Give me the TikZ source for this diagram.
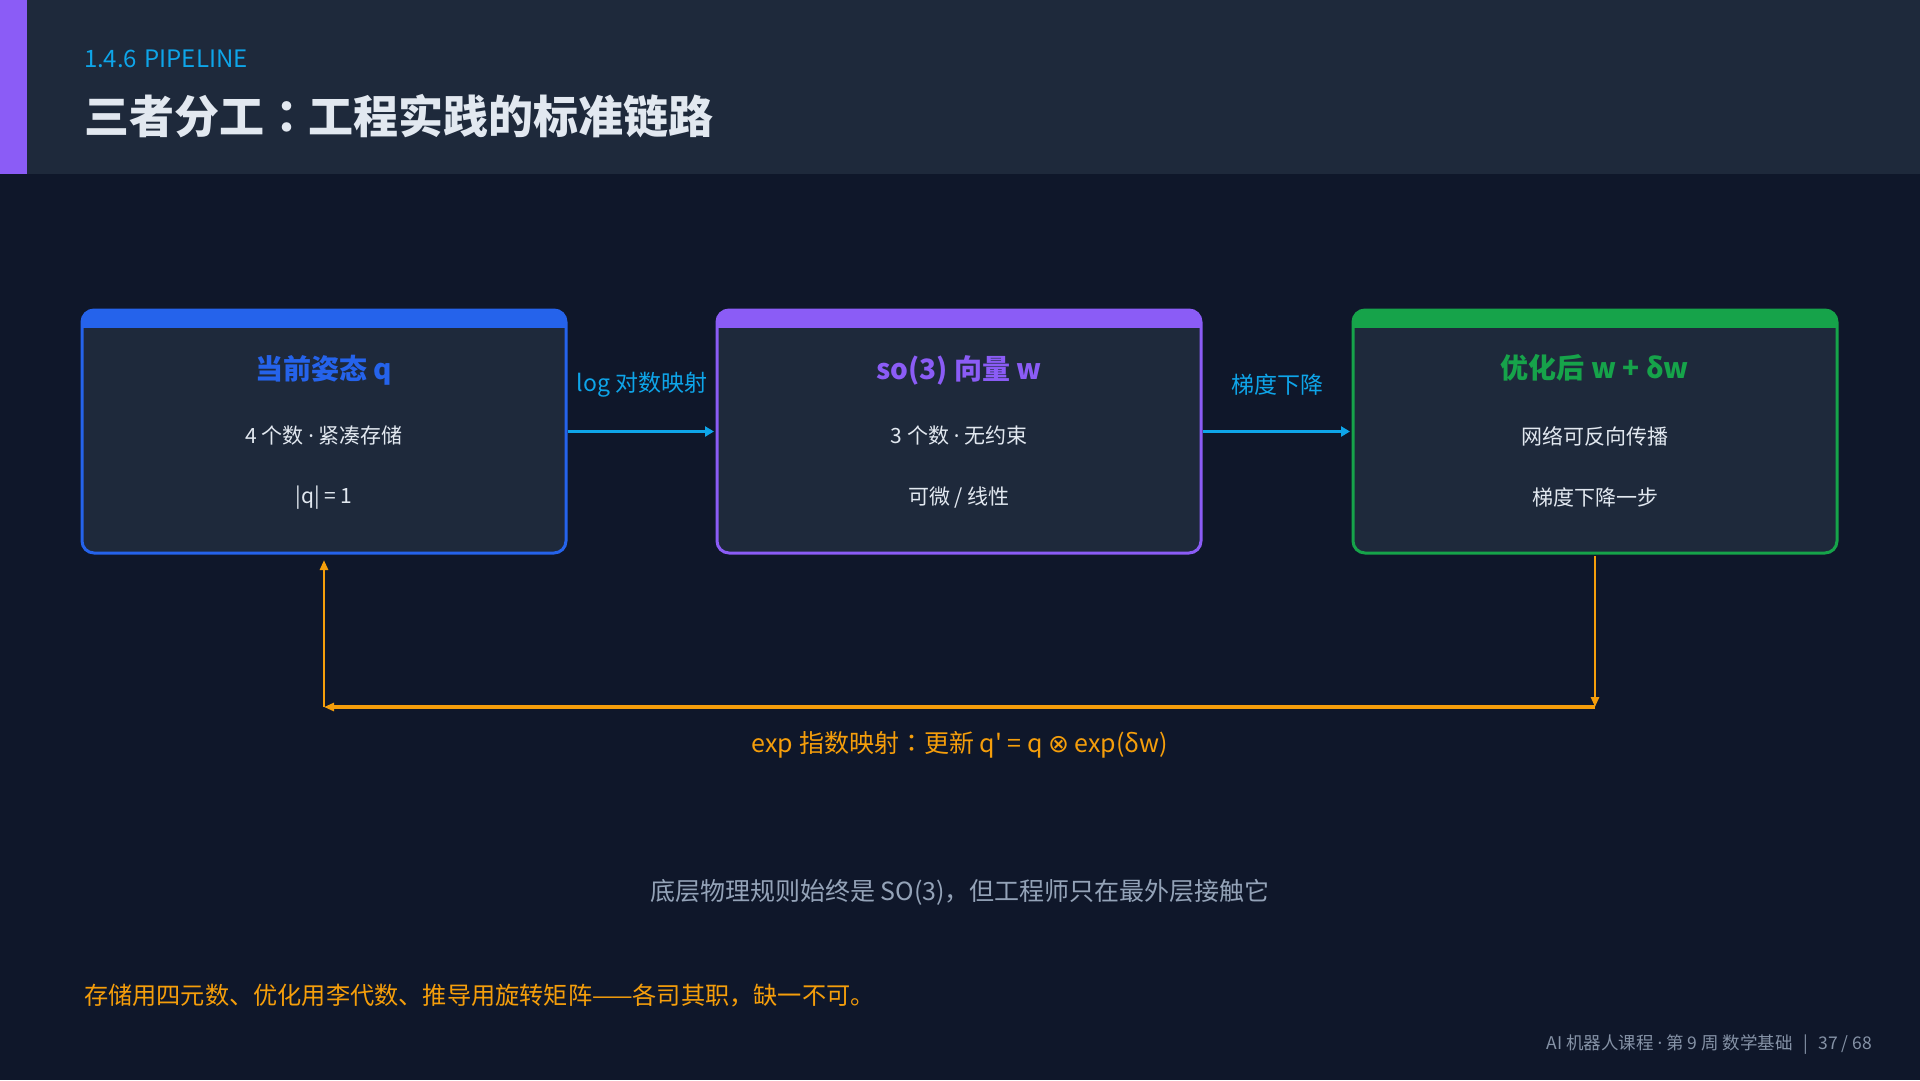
\documentclass[tikz,border=0pt]{standalone}
\usepackage{fontspec}
\setmainfont{Noto Sans CJK SC}
\newfontfamily\symfont{DejaVu Sans}
\newfontfamily\latinfont{Noto Sans}
\newfontfamily\tcfont{Noto Sans CJK TC}
\newfontfamily\plaincjk{Noto Sans CJK SC}
\newcommand{\mdot}{{\latinfont ·}}
\newcommand{\fwcolon}{{\tcfont ：}}
\newcommand{\apos}{{\plaincjk '}}
\usetikzlibrary{arrows.meta}
\definecolor{bgc}{HTML}{0F172A}
\definecolor{panel}{HTML}{1E293B}
\definecolor{accent}{HTML}{8B5CF6}
\definecolor{sky}{HTML}{0EA5E9}
\definecolor{titlec}{HTML}{E2E8F0}
\definecolor{bodyc}{HTML}{E2E8F0}
\definecolor{greyc}{HTML}{94A3B8}
\definecolor{footc}{HTML}{8592A6}
\definecolor{blueb}{HTML}{2563EB}
\definecolor{purpleb}{HTML}{8B5CF6}
\definecolor{greenb}{HTML}{16A34A}
\definecolor{orangec}{HTML}{F59E0B}
\tikzset{
  txt/.style={inner sep=0pt, outer sep=0pt},
  boxframe/.style={draw=#1, line width=3pt, rounded corners=12pt, minimum width=484pt, minimum height=243pt, inner sep=0pt, outer sep=0pt},
  boxtitle/.style={txt, text=#1, font=\fontsize{28}{28}\selectfont\bfseries},
  boxline/.style={txt, text=bodyc, font=\fontsize{21}{21}\selectfont},
  flowarrow/.style={draw=sky, line width=3pt, -{Triangle[length=9pt,width=10pt]}},
  looparrow/.style={draw=orangec, -{Triangle[length=10pt,width=8pt]}},
}
\newcommand{\cardbox}[3]{% name, x-left, color
  \fill[panel, rounded corners=12pt] (#2,310) rectangle ++(484,243);
  \begin{scope}
    \clip[rounded corners=12pt] (#2,310) rectangle ++(484,243);
    \fill[#3] (#2,310) rectangle ++(484,18);
  \end{scope}
  \node[boxframe=#3] (#1) at (#2+242,431.5) {};
}
\begin{document}
\begin{tikzpicture}[x=1pt, y=-1pt]
\useasboundingbox (0,0) rectangle (1920,1080);
\fill[bgc] (0,0) rectangle (1920,1080);
% header
\fill[panel] (0,0) rectangle (1920,174);
\fill[accent] (0,0) rectangle (27,174);
\node[txt, anchor=west, text=sky, font=\fontsize{24}{24}\selectfont] (sec) at (84,59) {1.4.6\hspace{0.3em}PIPELINE};
\node[txt, anchor=west, text=titlec, font=\fontsize{45}{45}\selectfont\bfseries] (ttl) at (84,116) {三者分工\fwcolon 工程实践的标准链路};

% cards
\cardbox{b1}{82}{blueb}
\cardbox{b2}{717}{purpleb}
\cardbox{b3}{1353}{greenb}

\node[boxtitle=blueb] (b1t) at (324,370) {当前姿态 q};
\node[boxline] (b1a) at (324,436) {4 个数 \mdot{} 紧凑存储};
\node[boxline] (b1b) at (324,498) {|q| = 1};

\node[boxtitle=purpleb] (b2t) at (959,370) {so(3) 向量 w};
\node[boxline] (b2a) at (959,436) {3 个数 \mdot{} 无约束};
\node[boxline] (b2b) at (959,498) {可微 / 线性};

\node[boxtitle=greenb] (b3t) at (1595,368) {优化后 w + δw};
\node[boxline] (b3a) at (1595,436) {网络可反向传播};
\node[boxline] (b3b) at (1595,497) {梯度下降一步};

% forward arrows
\draw[flowarrow, shorten <=2pt, shorten >=3pt] (b1.east) -- (b2.west);
\draw[flowarrow, shorten <=2pt, shorten >=3pt] (b2.east) -- (b3.west);
\node[txt, text=sky, font=\fontsize{23}{23}\selectfont] (l1) at (642,385) {log 对数映射};
\node[txt, text=sky, font=\fontsize{23}{23}\selectfont] (l2) at (1277,385) {梯度下降};

% feedback loop
\coordinate (c1) at (1595,707);
\coordinate (c2) at (324,707);
\draw[looparrow, line width=2.5pt, shorten <=3pt] (b3.south) -- (c1);
\draw[looparrow, line width=3.5pt] (c1) -- (c2);
\draw[looparrow, line width=2.5pt, shorten >=7pt] (c2) -- (b1.south);
\node[txt, text=orangec, font=\fontsize{25}{25}\selectfont] (l3) at (960,745) {exp 指数映射\fwcolon 更新 q\apos{} = q {\symfont ⊗} exp(δw)};

% bottom texts
\node[txt, text=greyc, font=\fontsize{25}{25}\selectfont] (note) at (960,892) {底层物理规则始终是 SO(3)，但工程师只在最外层接触它};
\node[txt, anchor=west, text=orangec, font=\fontsize{24.2}{25}\selectfont] (sum) at (84,996) {存储用四元数、优化用李代数、推导用旋转矩阵——各司其职，缺一不可。};
\node[txt, anchor=east, text=footc, font=\fontsize{17.5}{18}\selectfont] (foot) at (1872,1044.5) {AI 机器人课程 \mdot{} 第 9 周 数学基础\hspace{0.6em}|\hspace{0.6em}37 / 68};
\end{tikzpicture}
\end{document}
